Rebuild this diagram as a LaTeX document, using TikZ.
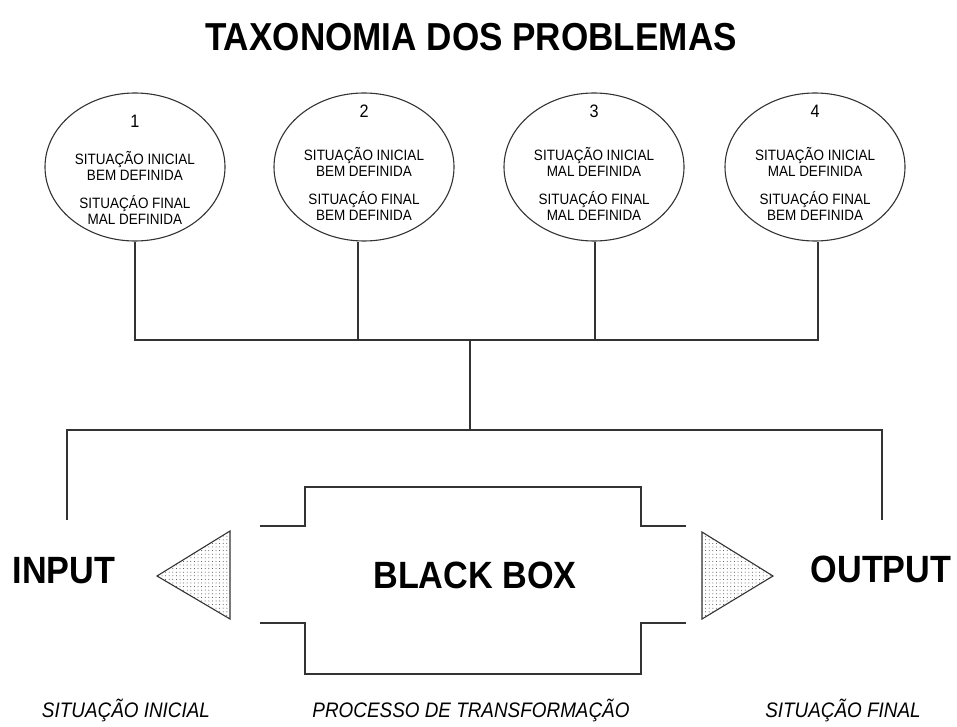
\documentclass[tikz,border=0pt]{standalone}
\usepackage{fontspec}
\setmainfont{Liberation Sans}[FakeStretch=0.9]
\usetikzlibrary{shapes.geometric,patterns.meta}
\begin{document}
\begin{tikzpicture}[x=1pt,y=-1pt,
  wire/.style={draw=black!80,line width=1.2pt},
  bubble/.style={ellipse,draw=black!80,line width=1.1pt,minimum width=180pt,minimum height=148pt,inner sep=0pt},
  bubbletext/.style={anchor=base,inner sep=0pt,font=\fontsize{15}{16}\selectfont},
  bubblenum/.style={anchor=base,inner sep=0pt,font=\fontsize{18}{20}\selectfont},
  bigword/.style={anchor=base,inner sep=0pt,font=\fontsize{38}{42}\selectfont\bfseries},
  caption/.style={anchor=base,inner sep=0pt,font=\fontsize{21}{24}\selectfont\itshape},
  funnel/.style={draw=black!80,line width=1.1pt,line join=miter,pattern={Dots[distance=3.6pt,radius=0.5pt]},pattern color=black!75}]
\useasboundingbox (0,0) rectangle (957,727);

% title
\node[anchor=base,inner sep=0pt,font=\fontsize{39}{44}\selectfont\bfseries] (title) at (471,51) {TAXONOMIA DOS PROBLEMAS};

% the four problem classes
\foreach \i/\cx/\dy/\dn/\ta/\tb in {1/135/4/10/BEM/MAL, 2/364/0/0/BEM/BEM, 3/594/0/0/MAL/MAL, 4/815/0/0/MAL/BEM}{
  \node[bubble] (e\i) at (\cx,167) {};
  \node[bubblenum]  (n\i)  at (\cx,118+\dn) {\i};
  \node[bubbletext] (a\i)  at (\cx,161+\dy) {SITUAÇÃO INICIAL};
  \node[bubbletext] (b\i)  at (\cx,177+\dy) {\ta{} DEFINIDA};
  \node[bubbletext] (c\i)  at (\cx,205+\dy) {SITUAÇÁO FINAL};
  \node[bubbletext] (d\i)  at (\cx,221+\dy) {\tb{} DEFINIDA};
}

% feet of the four stems
\coordinate (s1) at (e1.south);
\coordinate (s2) at ([xshift=-6pt]e2.south);
\coordinate (s3) at ([xshift=1pt]e3.south);
\coordinate (s4) at ([xshift=3pt]e4.south);

% tree joining the classes to the model
\coordinate (j)  at (470,340);
\coordinate (k)  at (470,430);
\coordinate (kl) at (67,430);
\coordinate (kr) at (882,430);
\coordinate (inend)  at (67,520);
\coordinate (outend) at (882,520);
\draw[wire] (s1) -- (s1 |- j) -- (s4 |- j) -- (s4);
\draw[wire] (s2) -- (s2 |- j);
\draw[wire] (s3) -- (s3 |- j);
\draw[wire] (j) -- (k);
\draw[wire] (inend) -- (kl) -- (kr) -- (outend);

% black box outline
\draw[wire] (260,526) -- (305,526) -- (305,487) -- (641,487) -- (641,526) -- (686,526);
\draw[wire] (260,623) -- (305,623) -- (305,674) -- (641,674) -- (641,623) -- (686,623);

% input and output funnels
\draw[funnel] (157,576) -- (230,531) -- (230,619) -- cycle;
\draw[funnel] (702,532) -- (773,576) -- (702,619) -- cycle;

% labels
\node[bigword] (input)  at (64,583)  {INPUT};
\node[bigword] (box)    at (475,588) {BLACK BOX};
\node[bigword] (output) at (881,582) {OUTPUT};

\node[caption] (capin)  at (126,717) {SITUAÇÃO INICIAL};
\node[caption] (capbox) at (471,717) {PROCESSO DE TRANSFORMAÇÃO};
\node[caption] (capout) at (843,717) {SITUAÇÃO FINAL};
\end{tikzpicture}
\end{document}
